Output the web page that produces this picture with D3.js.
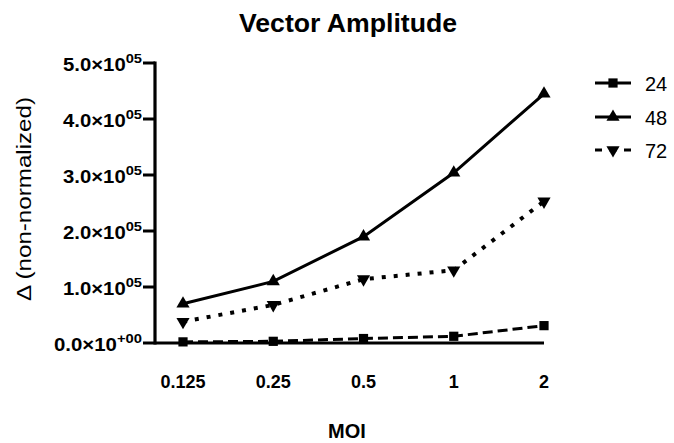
<!DOCTYPE html>
<html>
<head>
<meta charset="utf-8">
<script src="https://cdn.jsdelivr.net/npm/d3@7"></script>
<style>
body { margin: 0; background: #fff; }
text { font-family: "Liberation Sans", Arial, sans-serif; }
</style>
</head>
<body>
<div class="container"></div>
<script>
const width = 674;
const height = 443;

// MOI categories
const moi = ['0.125', '0.25', '0.5', '1', '2'];

// series values
const series24 = [2000, 3000, 8000, 12000, 31000];
const series48 = [70000, 110000, 190000, 304000, 445000];
const series72 = [38000, 68000, 114000, 130000, 253000];

const yTicks = [0, 100000, 200000, 300000, 400000, 500000];

const series = [
    { name: '24', values: series24, dash: '10,5', legendDash: null, marker: 'square' },
    { name: '48', values: series48, dash: null, legendDash: null, marker: 'up' },
    { name: '72', values: series72, dash: '4,8', legendDash: '7,7.5', marker: 'down' },
];

const svg = d3.select('.container')
    .append('svg')
    .attr('width', width)
    .attr('height', height);

const plotLeft = 155;
const plotRight = 544;
const plotTop = 63;
const plotBottom = 343;

const x = d3.scalePoint().domain(moi).range([183, 544]);
const y = d3.scaleLinear().domain([0, 500000]).range([plotBottom, plotTop]);

function markerPath(type) {
    if (type === 'square') return d3.symbol().type(d3.symbolSquare).size(85)();
    return d3.symbol().type(d3.symbolTriangle).size(75)();
}

// title
svg.append('text')
    .attr('x', 348).attr('y', 32)
    .attr('text-anchor', 'middle')
    .attr('font-size', 25).attr('font-weight', 'bold')
    .attr('textLength', 218).attr('lengthAdjust', 'spacingAndGlyphs')
    .text('Vector Amplitude');

// y axis
const yAxis = svg.append('g');
yAxis.append('line')
    .attr('x1', plotLeft).attr('x2', plotLeft)
    .attr('y1', plotTop - 1.5).attr('y2', plotBottom + 1.5)
    .attr('stroke', '#000').attr('stroke-width', 3.2);

yTicks.forEach(t => {
    yAxis.append('line')
        .attr('x1', plotLeft - 12).attr('x2', plotLeft)
        .attr('y1', y(t)).attr('y2', y(t))
        .attr('stroke', '#000').attr('stroke-width', 3);
    const mant = (t / 100000).toFixed(1);
    const exp = t === 0 ? '+00' : '05';
    const lbl = yAxis.append('text')
        .attr('x', plotLeft - 13).attr('y', y(t) + 7.5)
        .attr('text-anchor', 'end')
        .attr('font-size', 18).attr('font-weight', 'bold')
        .attr('textLength', t === 0 ? 88 : 79).attr('lengthAdjust', 'spacingAndGlyphs');
    lbl.append('tspan').text(mant + '×10');
    lbl.append('tspan').attr('dy', -8).attr('font-size', 13).text(exp);
});

svg.append('text')
    .attr('transform', `translate(31, 199) rotate(-90)`)
    .attr('text-anchor', 'middle')
    .attr('font-size', 20)
    .attr('textLength', 204).attr('lengthAdjust', 'spacingAndGlyphs')
    .text('Δ (non-normalized)');

// x axis
svg.append('line')
    .attr('x1', plotLeft).attr('x2', plotRight)
    .attr('y1', plotBottom).attr('y2', plotBottom)
    .attr('stroke', '#000').attr('stroke-width', 3.2);

svg.selectAll('.xlabel')
    .data(moi)
    .enter()
    .append('text')
    .attr('class', 'xlabel')
    .attr('x', d => x(d)).attr('y', 388)
    .attr('text-anchor', 'middle')
    .attr('font-size', 18).attr('font-weight', 'bold')
    .text(d => d);

svg.append('text')
    .attr('x', 347).attr('y', 438)
    .attr('text-anchor', 'middle')
    .attr('font-size', 20).attr('font-weight', 'bold')
    .text('MOI');

// lines + markers
const line = d3.line()
    .x((d, i) => x(moi[i]))
    .y(d => y(d));

series.forEach(s => {
    const dotted = s.marker === 'down';
    svg.append('path')
        .datum(s.values)
        .attr('d', line)
        .attr('fill', 'none')
        .attr('stroke', '#000')
        .attr('stroke-width', dotted ? 4 : 3)
        .attr('stroke-dasharray', s.dash);

    svg.selectAll('.m' + s.name)
        .data(s.values)
        .enter()
        .append('path')
        .attr('d', markerPath(s.marker))
        .attr('transform', (d, i) => `translate(${x(moi[i])}, ${y(d)})` + (dotted ? ' rotate(180)' : ''))
        .attr('fill', '#000');
});

// legend
const legendY = [83, 117, 150];
series.forEach((s, i) => {
    const g = svg.append('g').attr('transform', `translate(595, ${legendY[i]})`);
    g.append('line')
        .attr('x1', 0).attr('x2', 36)
        .attr('stroke', '#000').attr('stroke-width', 3)
        .attr('stroke-dasharray', s.legendDash);
    g.append('path')
        .attr('d', markerPath(s.marker))
        .attr('transform', 'translate(18, 0)' + (s.marker === 'down' ? ' rotate(180)' : ''))
        .attr('fill', '#000');
    g.append('text')
        .attr('x', 50).attr('y', 8)
        .attr('font-size', 20)
        .text(s.name);
});
</script>
</body>
</html>
